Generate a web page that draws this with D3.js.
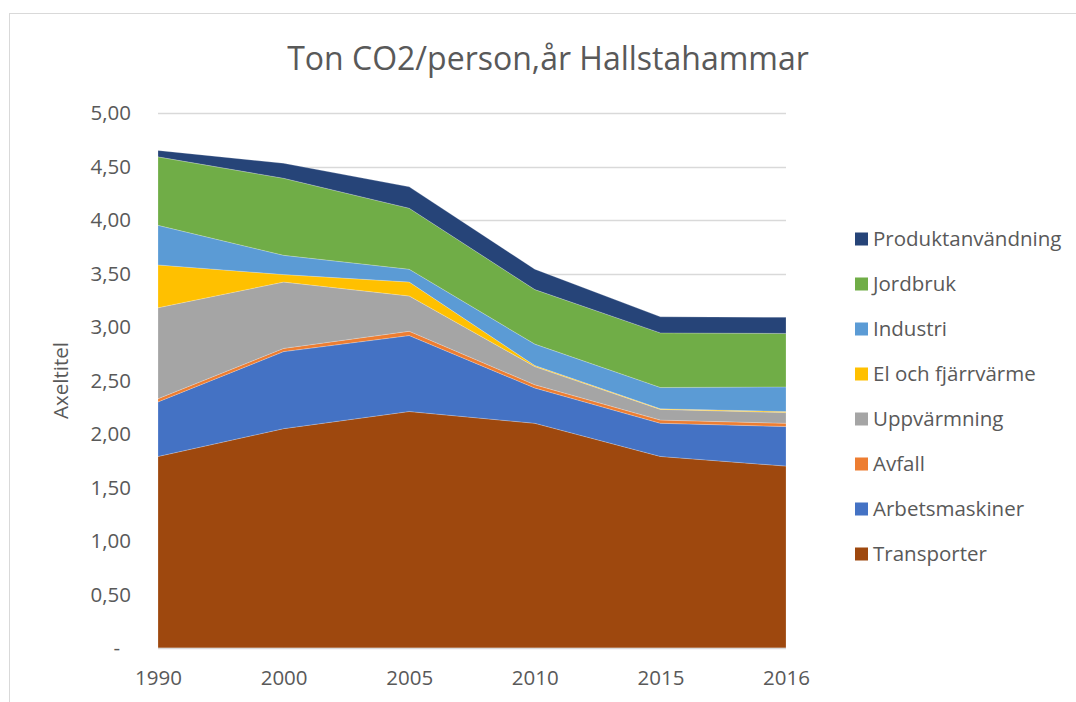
<!DOCTYPE html>
<html>
<head>
<meta charset="utf-8">
<script src="https://cdn.jsdelivr.net/npm/d3@7"></script>
<style>
  body { margin: 0; background: #fff; }
  text { font-family: "Open Sans", sans-serif; fill: #595959; }
</style>
</head>
<body>
<script>
// years on the x axis
const years = ["1990", "2000", "2005", "2010", "2015", "2016"];

// series, bottom of the stack first (ton CO2 per person and year)
const transporter     = [1.79, 2.05, 2.21, 2.10, 1.79, 1.70];
const arbetsmaskiner  = [0.51, 0.72, 0.71, 0.33, 0.31, 0.37];
const avfall          = [0.03, 0.03, 0.04, 0.03, 0.03, 0.03];
const uppvarmning     = [0.85, 0.62, 0.33, 0.17, 0.10, 0.10];
const elFjarrvarme    = [0.40, 0.07, 0.13, 0.01, 0.005, 0.01];
const industri        = [0.37, 0.18, 0.12, 0.20, 0.20, 0.23];
const jordbruk        = [0.64, 0.72, 0.57, 0.51, 0.51, 0.50];
const produkt         = [0.06, 0.14, 0.20, 0.19, 0.15, 0.15];

const seriesNames = ["Transporter", "Arbetsmaskiner", "Avfall", "Uppvärmning",
  "El och fjärrvärme", "Industri", "Jordbruk", "Produktanvändning"];
const seriesValues = [transporter, arbetsmaskiner, avfall, uppvarmning,
  elFjarrvarme, industri, jordbruk, produkt];
const seriesColors = ["#9E480E", "#4472C4", "#ED7D31", "#A5A5A5",
  "#FFC000", "#5B9BD5", "#70AD47", "#264478"];

const yTicks = [0, 0.5, 1, 1.5, 2, 2.5, 3, 3.5, 4, 4.5, 5];

const width = 1076;
const height = 702;

// build rows for d3.stack
const rows = years.map((yr, i) => {
  const r = { year: yr };
  seriesNames.forEach((n, j) => r[n] = seriesValues[j][i]);
  return r;
});

const svg = d3.select("body").append("svg")
    .attr("width", width)
    .attr("height", height);

// chart frame
svg.append("rect")
    .attr("x", 9.5).attr("y", 13.5)
    .attr("width", 1100).attr("height", 720)
    .attr("fill", "none")
    .attr("stroke", "#D9D9D9");

const x = d3.scalePoint().domain(years).range([158, 786]);
const y = d3.scaleLinear().domain([0, 5]).range([648, 113]);

// gridlines
svg.append("g")
  .selectAll("line")
  .data(yTicks.filter(d => d > 0))
  .join("line")
    .attr("x1", x.range()[0]).attr("x2", x.range()[1])
    .attr("y1", d => Math.round(y(d)) + 0.5)
    .attr("y2", d => Math.round(y(d)) + 0.5)
    .attr("stroke", "#D9D9D9")
    .attr("stroke-width", 1.5);

const stack = d3.stack().keys(seriesNames);
const layers = stack(rows);

const area = d3.area()
    .x(d => x(d.data.year))
    .y0(d => y(d[0]))
    .y1(d => y(d[1]));

svg.append("g")
  .selectAll("path")
  .data(layers)
  .join("path")
    .attr("d", area)
    .attr("fill", (d, i) => seriesColors[i])
    .attr("stroke", "#fff")
    .attr("stroke-opacity", 0.35)
    .attr("stroke-width", 0.6);

// bottom axis line
svg.append("line")
    .attr("x1", x.range()[0]).attr("x2", x.range()[1])
    .attr("y1", y(0) + 0.5).attr("y2", y(0) + 0.5)
    .attr("stroke", "#D9D9D9")
    .attr("stroke-width", 1.5);

// y axis labels
const fmt = d => d === 0 ? "-" : d3.format(".2f")(d).replace(".", ",");
svg.append("g")
  .selectAll("text")
  .data(yTicks)
  .join("text")
    .attr("x", d => d === 0 ? 120 : 131)
    .attr("y", d => y(d))
    .attr("dy", "0.35em")
    .attr("text-anchor", "end")
    .style("font-size", "20.5px")
    .text(fmt);

// x axis labels
const xAxis = svg.append("g")
    .attr("transform", `translate(0,${y(0)})`)
    .call(d3.axisBottom(x).tickSize(0).tickPadding(22));
xAxis.select(".domain").remove();
xAxis.selectAll("text")
    .attr("fill", "#595959")
    .style("font-family", "'Open Sans', sans-serif")
    .style("font-size", "20.5px");

// axis title
svg.append("text")
    .attr("transform", `translate(68,${(y(0) + y(5)) / 2}) rotate(-90)`)
    .attr("text-anchor", "middle")
    .style("font-size", "20.5px")
    .text("Axeltitel");

// chart title
svg.append("text")
    .attr("x", 548)
    .attr("y", 70)
    .attr("text-anchor", "middle")
    .style("font-size", "32px")
    .text("Ton CO2/person,år Hallstahammar");

// legend, top of stack first
const legend = svg.append("g")
  .selectAll("g")
  .data(seriesNames.map((n, i) => ({ name: n, color: seriesColors[i] })).reverse())
  .join("g")
    .attr("transform", (d, i) => `translate(855,${239 + i * 45})`);

legend.append("rect")
    .attr("x", 0).attr("y", -6.5)
    .attr("width", 13).attr("height", 13)
    .attr("fill", d => d.color);

legend.append("text")
    .attr("x", 18)
    .attr("dy", "0.35em")
    .style("font-size", "20.5px")
    .text(d => d.name);
</script>
</body>
</html>
